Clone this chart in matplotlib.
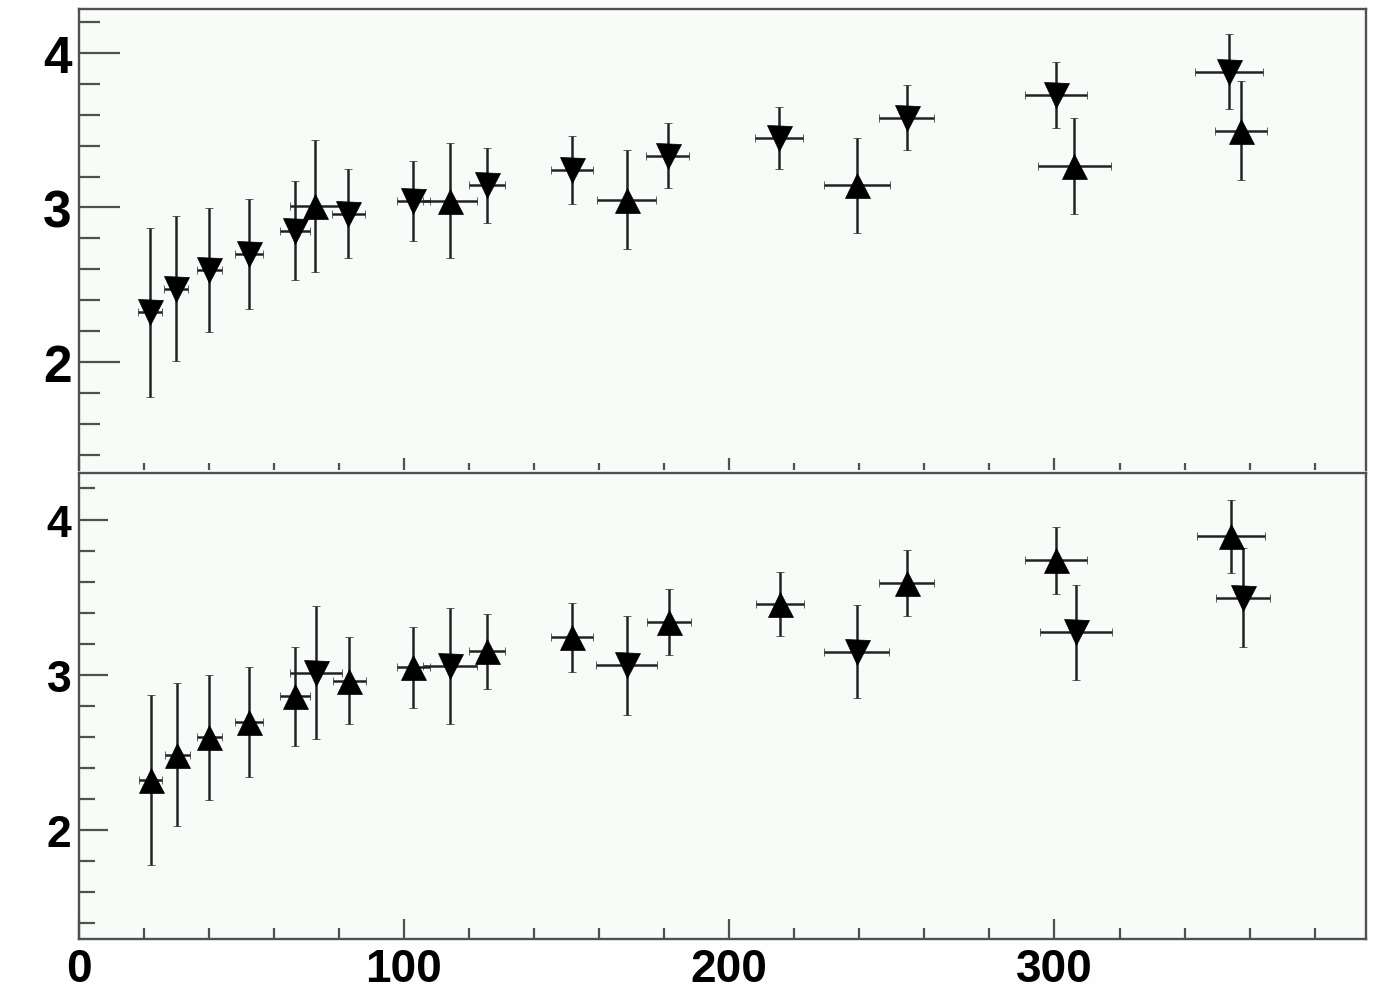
import matplotlib
matplotlib.use("Agg")
import matplotlib.pyplot as plt
from matplotlib.ticker import MultipleLocator, FixedLocator

# ---------------- data ----------------
# top panel: main series (down triangles)
top_down_x    = [22.0, 30.0, 40.2, 52.5, 66.6, 82.9, 102.9, 125.5, 151.6, 181.1, 215.3, 254.6, 300.5, 353.7]
top_down_y    = [2.32, 2.475, 2.595, 2.70, 2.85, 2.96, 3.04, 3.144, 3.24, 3.336, 3.45, 3.58, 3.728, 3.88]
top_down_yerr = [0.55, 0.467, 0.403, 0.355, 0.32, 0.286, 0.26, 0.243, 0.22, 0.208, 0.203, 0.21, 0.216, 0.24]
top_down_xerr = [3.6, 3.8, 3.8, 4.3, 4.6, 5.1, 5.1, 5.6, 6.4, 6.7, 7.4, 8.4, 9.5, 10.5]
# top panel: secondary series (up triangles)
top_up_x    = [72.8, 114.2, 168.5, 239.2, 306.1, 357.3]
top_up_y    = [3.01, 3.045, 3.05, 3.144, 3.268, 3.498]
top_up_yerr = [0.43, 0.37, 0.32, 0.308, 0.313, 0.321]
top_up_xerr = [7.8, 8.3, 9.1, 10.1, 11.2, 8.1]

# bottom panel: main series (up triangles)
bot_up_x    = [22.2, 30.4, 40.2, 52.5, 66.6, 83.2, 102.9, 125.5, 151.6, 181.6, 215.6, 254.6, 300.5, 354.2]
bot_up_y    = [2.326, 2.485, 2.597, 2.698, 2.862, 2.963, 3.048, 3.152, 3.242, 3.34, 3.455, 3.593, 3.737, 3.891]
bot_up_yerr = [0.547, 0.46, 0.40, 0.356, 0.32, 0.28, 0.26, 0.24, 0.223, 0.212, 0.207, 0.212, 0.218, 0.234]
bot_up_xerr = [3.6, 3.8, 3.8, 4.3, 4.6, 5.1, 5.1, 5.6, 6.4, 6.7, 7.4, 8.4, 9.5, 10.4]
# bottom panel: secondary series (down triangles)
bot_down_x    = [73.0, 114.2, 168.5, 239.2, 306.6, 357.8]
bot_down_y    = [3.015, 3.056, 3.062, 3.15, 3.274, 3.496]
bot_down_yerr = [0.43, 0.372, 0.319, 0.30, 0.307, 0.318]
bot_down_xerr = [8.0, 8.3, 9.4, 10.0, 11.2, 8.3]

x_ticks = [0, 100, 200, 300]
x_tick_labels = ["0", "100", "200", "300"]
y_ticks = [2, 3, 4]
y_tick_labels = ["2", "3", "4"]

# ---------------- style ----------------
W, H = 1375, 1003
fig = plt.figure(figsize=(W / 100, H / 100), dpi=100, facecolor="#fdfefd")
plt.rcParams["font.family"] = ["Liberation Sans", "DejaVu Sans"]

L, R = 78.5 / W, 1365.5 / W
ax_top = fig.add_axes([L, 1 - 471 / H, R - L, (471 - 10) / H])
ax_bot = fig.add_axes([L, 1 - 939.5 / H, R - L, (939.5 - 473.5) / H])

axis_col = "#505050"
err_col = "#222222"
XLIM = (0, 395.6)
YLIM_TOP = (1.30, 4.285)
YLIM_BOT = (1.303, 4.303)

def draw(ax, x, y, xe, ye, marker):
    ax.errorbar(x, y, xerr=xe, yerr=ye, fmt=marker, ms=18, mfc="black", mec="black",
                mew=0.5, ecolor=err_col, elinewidth=1.8, capsize=2.6, capthick=1.8)

draw(ax_top, top_down_x, top_down_y, top_down_xerr, top_down_yerr, "v")
draw(ax_top, top_up_x, top_up_y, top_up_xerr, top_up_yerr, "^")
draw(ax_bot, bot_up_x, bot_up_y, bot_up_xerr, bot_up_yerr, "^")
draw(ax_bot, bot_down_x, bot_down_y, bot_down_xerr, bot_down_yerr, "v")

for ax, ylim in ((ax_top, YLIM_TOP), (ax_bot, YLIM_BOT)):
    ax.set_facecolor("#f8fcf8")
    ax.set_xlim(*XLIM)
    ax.set_ylim(*ylim)
    for s in ax.spines.values():
        s.set_color(axis_col)
        s.set_linewidth(1.7)
    ax.xaxis.set_major_locator(FixedLocator(x_ticks))
    ax.xaxis.set_minor_locator(MultipleLocator(20))
    ax.yaxis.set_major_locator(FixedLocator(y_ticks))
    ax.yaxis.set_minor_locator(MultipleLocator(0.2))
    ax.set_yticklabels(y_tick_labels)
    ax.tick_params(which="both", direction="in", color=axis_col, width=1.6,
                   top=False, right=False)

ax_top.spines["bottom"].set_visible(False)
ax_top.tick_params(axis="x", which="major", length=9, labelbottom=False)
ax_top.tick_params(axis="x", which="minor", length=5)
ax_top.tick_params(axis="y", which="major", length=29.5, pad=5, labelsize=37)
ax_top.tick_params(axis="y", which="minor", length=15)

ax_bot.set_xticklabels(x_tick_labels)
ax_bot.tick_params(axis="x", which="major", length=14.5, pad=6, labelsize=33)
ax_bot.tick_params(axis="x", which="minor", length=8)
ax_bot.tick_params(axis="y", which="major", length=21, pad=5, labelsize=32)
ax_bot.tick_params(axis="y", which="minor", length=11.5)

for ax in (ax_top, ax_bot):
    for lab in ax.get_xticklabels() + ax.get_yticklabels():
        lab.set_fontweight("bold")

fig.savefig("out.png", dpi=100, facecolor=fig.get_facecolor())
